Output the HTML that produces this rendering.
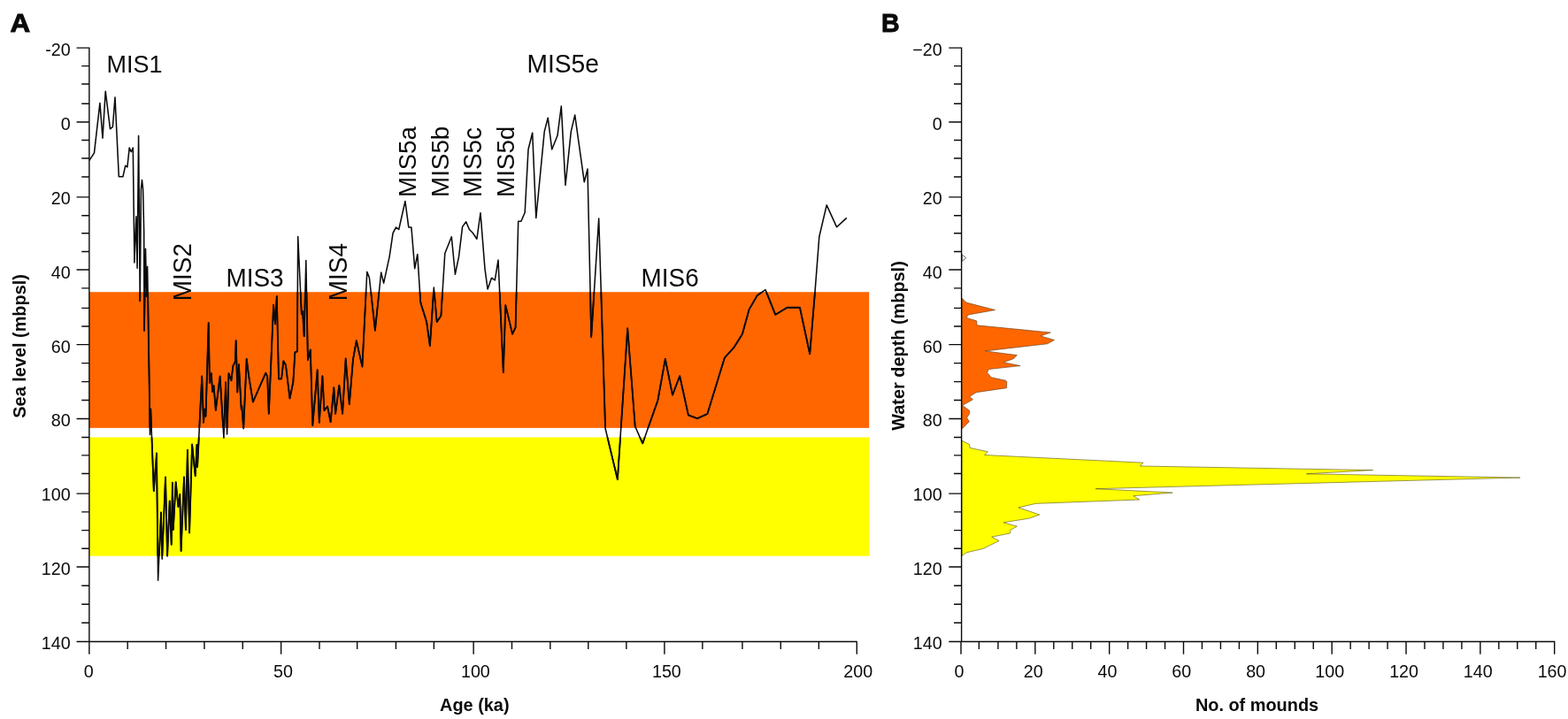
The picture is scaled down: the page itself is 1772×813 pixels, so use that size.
<!DOCTYPE html>
<html lang="en"><head><meta charset="utf-8"><title>Sea level and mound depth</title>
<style>html,body{margin:0;padding:0;background:#fff}body{width:1772px;height:813px;overflow:hidden}svg{display:block}
text{font-family:"Liberation Sans",sans-serif;fill:#0a0a0a}
.t{font-size:19.7px}.m{font-size:27.3px}.b{font-size:19.9px;font-weight:bold}.p{font-size:29.9px;font-weight:bold;stroke:#0a0a0a;stroke-width:0.95px;stroke-linejoin:miter}
.ax{stroke:#0a0a0a;stroke-width:1.40;fill:none;shape-rendering:auto}
</style></head><body>
<svg width="1772" height="813" viewBox="0 0 1772 813">
<rect width="1772" height="813" fill="#ffffff"/>
<rect x="100.8" y="330.2" width="881.4" height="153.7" fill="#ff6600"/>
<rect x="100.8" y="494.5" width="881.4" height="134.2" fill="#ffff00"/>
<polygon points="1087.0,337.1 1092.0,342.1 1124.6,350.5 1094.5,355.9 1092.0,359.3 1103.6,362.8 1104.1,367.8 1187.3,376.0 1176.0,379.9 1191.5,384.4 1183.6,388.8 1113.3,396.9 1149.3,401.6 1145.3,405.7 1134.0,409.7 1153.1,413.6 1117.1,417.6 1115.8,421.4 1120.2,426.7 1136.5,430.2 1137.8,431.4 1137.5,438.7 1103.2,443.7 1095.7,448.4 1099.5,451.8 1087.6,458.4 1095.7,464.3 1095.7,467.8 1092.6,472.2 1095.4,476.7 1087.0,485.1" fill="#ff6600" stroke="#5a3a1a" stroke-width="0.6" stroke-linejoin="miter"/>
<polygon points="1087.0,498.2 1095.7,502.6 1096.1,506.4 1116.4,510.8 1112.7,514.5 1291.9,523.2 1288.5,527.0 1551.5,531.6 1476.4,535.8 1718.0,540.1 1238.1,552.7 1325.2,557.1 1280.8,560.7 1287.7,565.0 1170.4,569.4 1150.9,573.9 1174.8,582.0 1162.8,586.2 1134.0,590.8 1149.3,595.2 1142.1,599.2 1141.5,603.0 1120.8,607.1 1129.0,611.5 1111.4,620.3 1092.6,624.7 1087.0,628.4" fill="#ffff00" stroke="#55501a" stroke-width="0.6" stroke-linejoin="miter"/>
<polygon points="1087.3,287.9 1091.7,291.7 1087.3,295.4" fill="#fff" stroke="#4a4a4a" stroke-width="0.85"/>
<defs><clipPath id="bands"><rect x="100.8" y="330.2" width="881.4" height="153.7"/><rect x="100.8" y="494.5" width="881.4" height="134.2"/></clipPath></defs>
<polyline points="100.8,181.6 106.5,172.8 112.9,116.6 116.0,156.1 119.2,103.2 124.5,145.8 127.4,143.3 130.0,110.1 134.3,199.8 138.9,199.8 141.7,187.3 143.9,188.9 146.2,167.1 148.3,171.8 150.3,167.1 151.9,297.0 153.9,244.7 155.1,303.2 156.6,153.5 158.2,340.3 159.4,214.0 160.5,203.6 161.6,214.0 162.7,262.0 163.0,373.8 164.5,281.3 165.6,335.0 166.6,301.4 168.8,440.0 169.5,491.5 170.3,462.5 173.8,555.2 177.0,512.5 178.6,656.3 182.0,579.5 183.2,632.1 187.0,539.5 189.1,629.0 191.7,566.5 193.7,615.8 194.9,545.8 195.8,598.9 198.7,545.2 201.4,573.0 203.3,559.0 204.6,623.0 208.0,539.5 209.9,599.0 211.9,508.8 214.1,602.4 217.1,502.5 220.7,538.1 222.5,502.8 223.1,528.0 228.2,425.5 230.0,477.7 231.3,462.7 232.5,470.8 235.7,365.1 236.9,432.8 238.8,422.1 240.1,443.0 241.6,436.2 243.8,463.9 248.6,425.5 252.9,494.7 255.1,432.3 256.6,490.9 258.5,422.3 261.4,430.3 263.3,414.0 265.8,409.0 266.7,385.1 268.3,443.4 269.9,412.1 272.7,462.7 273.3,459.0 275.2,484.6 278.7,405.8 281.1,424.8 285.9,454.5 300.3,421.7 302.2,426.0 303.8,467.7 309.1,344.7 311.0,366.3 312.8,335.0 315.0,428.4 318.1,428.4 320.4,408.3 322.9,412.7 327.5,450.5 331.3,432.2 333.4,398.3 335.9,397.4 336.7,267.5 340.8,355.3 342.0,352.0 343.7,380.2 345.8,294.5 347.9,407.1 350.8,395.5 353.3,481.0 358.7,418.2 360.8,477.8 364.4,425.2 366.4,464.2 370.1,459.6 373.6,477.2 377.3,438.3 379.1,467.8 383.3,435.8 387.1,467.8 390.7,405.5 394.8,457.1 399.0,406.3 402.8,385.2 409.4,414.6 414.8,307.4 417.4,314.0 423.9,373.7 430.7,308.0 433.6,320.1 440.1,290.3 444.1,263.3 447.6,257.0 450.7,259.5 457.9,227.5 461.8,257.0 464.9,257.0 468.7,303.6 471.8,287.5 475.2,341.4 476.5,346.0 482.1,364.0 485.9,391.0 490.3,325.1 493.7,364.0 498.4,357.1 502.8,286.5 510.3,267.7 514.4,310.2 518.5,290.3 522.6,256.4 526.7,250.8 530.4,259.5 534.2,263.3 538.9,270.2 543.0,240.7 548.0,304.1 551.1,327.0 555.5,314.2 559.3,316.9 563.0,294.0 568.8,421.0 571.3,345.1 579.1,377.7 582.6,370.2 585.7,250.2 588.9,250.2 593.2,240.2 597.0,169.0 601.7,150.2 605.8,246.5 615.2,148.9 619.2,133.2 623.7,169.0 630.0,153.3 634.3,120.1 639.0,209.4 645.3,148.9 649.7,130.1 660.3,205.8 664.0,191.1 668.2,381.0 676.7,247.1 684.1,484.5 697.9,542.2 709.2,371.3 717.7,482.0 726.2,501.4 743.4,452.8 751.8,405.8 760.0,446.6 768.2,425.2 777.9,469.4 788.1,473.2 799.4,468.0 818.9,404.5 829.5,392.8 838.9,377.8 846.7,349.6 855.9,333.9 865.0,327.6 876.3,355.8 889.7,347.7 903.9,347.7 915.2,400.3 921.1,328.9 925.8,267.7 934.2,231.9 945.6,256.8 956.8,246.4" fill="none" stroke="#0b0a0a" stroke-width="1.55" stroke-linejoin="round"/>
<polyline points="100.8,181.6 106.5,172.8 112.9,116.6 116.0,156.1 119.2,103.2 124.5,145.8 127.4,143.3 130.0,110.1 134.3,199.8 138.9,199.8 141.7,187.3 143.9,188.9 146.2,167.1 148.3,171.8 150.3,167.1 151.9,297.0 153.9,244.7 155.1,303.2 156.6,153.5 158.2,340.3 159.4,214.0 160.5,203.6 161.6,214.0 162.7,262.0 163.0,373.8 164.5,281.3 165.6,335.0 166.6,301.4 168.8,440.0 169.5,491.5 170.3,462.5 173.8,555.2 177.0,512.5 178.6,656.3 182.0,579.5 183.2,632.1 187.0,539.5 189.1,629.0 191.7,566.5 193.7,615.8 194.9,545.8 195.8,598.9 198.7,545.2 201.4,573.0 203.3,559.0 204.6,623.0 208.0,539.5 209.9,599.0 211.9,508.8 214.1,602.4 217.1,502.5 220.7,538.1 222.5,502.8 223.1,528.0 228.2,425.5 230.0,477.7 231.3,462.7 232.5,470.8 235.7,365.1 236.9,432.8 238.8,422.1 240.1,443.0 241.6,436.2 243.8,463.9 248.6,425.5 252.9,494.7 255.1,432.3 256.6,490.9 258.5,422.3 261.4,430.3 263.3,414.0 265.8,409.0 266.7,385.1 268.3,443.4 269.9,412.1 272.7,462.7 273.3,459.0 275.2,484.6 278.7,405.8 281.1,424.8 285.9,454.5 300.3,421.7 302.2,426.0 303.8,467.7 309.1,344.7 311.0,366.3 312.8,335.0 315.0,428.4 318.1,428.4 320.4,408.3 322.9,412.7 327.5,450.5 331.3,432.2 333.4,398.3 335.9,397.4 336.7,267.5 340.8,355.3 342.0,352.0 343.7,380.2 345.8,294.5 347.9,407.1 350.8,395.5 353.3,481.0 358.7,418.2 360.8,477.8 364.4,425.2 366.4,464.2 370.1,459.6 373.6,477.2 377.3,438.3 379.1,467.8 383.3,435.8 387.1,467.8 390.7,405.5 394.8,457.1 399.0,406.3 402.8,385.2 409.4,414.6 414.8,307.4 417.4,314.0 423.9,373.7 430.7,308.0 433.6,320.1 440.1,290.3 444.1,263.3 447.6,257.0 450.7,259.5 457.9,227.5 461.8,257.0 464.9,257.0 468.7,303.6 471.8,287.5 475.2,341.4 476.5,346.0 482.1,364.0 485.9,391.0 490.3,325.1 493.7,364.0 498.4,357.1 502.8,286.5 510.3,267.7 514.4,310.2 518.5,290.3 522.6,256.4 526.7,250.8 530.4,259.5 534.2,263.3 538.9,270.2 543.0,240.7 548.0,304.1 551.1,327.0 555.5,314.2 559.3,316.9 563.0,294.0 568.8,421.0 571.3,345.1 579.1,377.7 582.6,370.2 585.7,250.2 588.9,250.2 593.2,240.2 597.0,169.0 601.7,150.2 605.8,246.5 615.2,148.9 619.2,133.2 623.7,169.0 630.0,153.3 634.3,120.1 639.0,209.4 645.3,148.9 649.7,130.1 660.3,205.8 664.0,191.1 668.2,381.0 676.7,247.1 684.1,484.5 697.9,542.2 709.2,371.3 717.7,482.0 726.2,501.4 743.4,452.8 751.8,405.8 760.0,446.6 768.2,425.2 777.9,469.4 788.1,473.2 799.4,468.0 818.9,404.5 829.5,392.8 838.9,377.8 846.7,349.6 855.9,333.9 865.0,327.6 876.3,355.8 889.7,347.7 903.9,347.7 915.2,400.3 921.1,328.9 925.8,267.7 934.2,231.9 945.6,256.8 956.8,246.4" fill="none" stroke="#0b0a10" stroke-width="1.85" stroke-linejoin="round" clip-path="url(#bands)"/>
<path class="ax" d="M100.85 53.42V725.50M86.55 725.50H968.70M86.55 54.12H100.85M92.25 74.59H100.85M92.25 95.06H100.85M92.25 117.23H100.85M86.55 138.00H100.85M92.25 158.57H100.85M92.25 178.94H100.85M92.25 200.01H100.85M86.55 222.88H100.85M92.25 243.75H100.85M92.25 263.82H100.85M92.25 284.49H100.85M86.55 305.06H100.85M92.25 325.83H100.85M92.25 348.40H100.85M92.25 369.07H100.85M86.55 389.64H100.85M92.25 410.61H100.85M92.25 431.58H100.85M92.25 452.55H100.85M86.55 473.52H100.85M92.25 494.49H100.85M92.25 514.86H100.85M92.25 535.53H100.85M86.55 558.10H100.85M92.25 578.87H100.85M92.25 599.64H100.85M92.25 620.31H100.85M86.55 640.98H100.85M92.25 662.25H100.85M92.25 683.22H100.85M92.25 704.19H100.85M100.85 725.50V739.80M144.21 725.50V734.10M187.56 725.50V734.10M230.92 725.50V734.10M274.28 725.50V734.10M317.64 725.50V739.80M361.00 725.50V734.10M403.65 725.50V734.10M447.41 725.50V734.10M490.37 725.50V734.10M535.12 725.50V739.80M578.48 725.50V734.10M621.84 725.50V734.10M664.80 725.50V734.10M707.86 725.50V734.10M750.91 725.50V739.80M793.87 725.50V734.10M838.93 725.50V734.10M882.28 725.50V734.10M925.34 725.50V734.10M968.30 725.50V739.80"/>
<path class="ax" d="M1086.60 53.42V725.50M1072.30 725.50H1757.40M1072.30 54.12H1086.60M1078.00 74.59H1086.60M1078.00 95.06H1086.60M1078.00 117.23H1086.60M1072.30 138.00H1086.60M1078.00 158.57H1086.60M1078.00 178.94H1086.60M1078.00 200.01H1086.60M1072.30 222.88H1086.60M1078.00 243.75H1086.60M1078.00 263.82H1086.60M1078.00 284.49H1086.60M1072.30 305.06H1086.60M1078.00 325.83H1086.60M1078.00 348.40H1086.60M1078.00 369.07H1086.60M1072.30 389.64H1086.60M1078.00 410.61H1086.60M1078.00 431.58H1086.60M1078.00 452.55H1086.60M1072.30 473.52H1086.60M1078.00 494.49H1086.60M1078.00 514.86H1086.60M1078.00 535.53H1086.60M1072.30 558.10H1086.60M1078.00 578.87H1086.60M1078.00 599.64H1086.60M1078.00 620.31H1086.60M1072.30 640.98H1086.60M1078.00 662.25H1086.60M1078.00 683.22H1086.60M1078.00 704.19H1086.60M1086.00 725.50V739.80M1106.36 725.50V734.10M1127.92 725.50V734.10M1148.88 725.50V734.10M1169.84 725.50V739.80M1190.80 725.50V734.10M1211.76 725.50V734.10M1232.72 725.50V734.10M1253.67 725.50V739.80M1274.63 725.50V734.10M1295.59 725.50V734.10M1316.55 725.50V734.10M1337.51 725.50V739.80M1358.47 725.50V734.10M1379.43 725.50V734.10M1400.39 725.50V734.10M1421.35 725.50V739.80M1442.31 725.50V734.10M1463.27 725.50V734.10M1484.23 725.50V734.10M1505.19 725.50V739.80M1526.15 725.50V734.10M1547.11 725.50V734.10M1568.07 725.50V734.10M1589.03 725.50V739.80M1609.98 725.50V734.10M1630.94 725.50V734.10M1651.90 725.50V734.10M1672.86 725.50V739.80M1693.82 725.50V734.10M1714.78 725.50V734.10M1735.74 725.50V734.10M1756.70 725.50V739.80"/>
<text class="t" x="79.6" y="63.0" text-anchor="end">-20</text>
<text class="t" x="1064.6" y="63.0" text-anchor="end">−20</text>
<text class="t" x="79.6" y="146.9" text-anchor="end">0</text>
<text class="t" x="1064.6" y="146.9" text-anchor="end">0</text>
<text class="t" x="79.6" y="230.8" text-anchor="end">20</text>
<text class="t" x="1064.6" y="230.8" text-anchor="end">20</text>
<text class="t" x="79.6" y="314.7" text-anchor="end">40</text>
<text class="t" x="1064.6" y="314.7" text-anchor="end">40</text>
<text class="t" x="79.6" y="398.5" text-anchor="end">60</text>
<text class="t" x="1064.6" y="398.5" text-anchor="end">60</text>
<text class="t" x="79.6" y="482.4" text-anchor="end">80</text>
<text class="t" x="1064.6" y="482.4" text-anchor="end">80</text>
<text class="t" x="79.6" y="566.3" text-anchor="end">100</text>
<text class="t" x="1064.6" y="566.3" text-anchor="end">100</text>
<text class="t" x="79.6" y="650.2" text-anchor="end">120</text>
<text class="t" x="1064.6" y="650.2" text-anchor="end">120</text>
<text class="t" x="79.6" y="734.1" text-anchor="end">140</text>
<text class="t" x="1064.6" y="734.1" text-anchor="end">140</text>
<text class="t" x="100.2" y="766.2" text-anchor="middle">0</text>
<text class="t" x="320.0" y="766.2" text-anchor="middle">50</text>
<text class="t" x="537.4" y="766.2" text-anchor="middle">100</text>
<text class="t" x="753.4" y="766.2" text-anchor="middle">150</text>
<text class="t" x="969.7" y="766.2" text-anchor="middle">200</text>
<text class="t" x="1084.0" y="766.2" text-anchor="middle">0</text>
<text class="t" x="1167.8" y="766.2" text-anchor="middle">20</text>
<text class="t" x="1251.5" y="766.2" text-anchor="middle">40</text>
<text class="t" x="1335.3" y="766.2" text-anchor="middle">60</text>
<text class="t" x="1419.1" y="766.2" text-anchor="middle">80</text>
<text class="t" x="1502.8" y="766.2" text-anchor="middle">100</text>
<text class="t" x="1586.6" y="766.2" text-anchor="middle">120</text>
<text class="t" x="1670.3" y="766.2" text-anchor="middle">140</text>
<text class="t" x="1754.1" y="766.2" text-anchor="middle">160</text>
<text class="b" x="536.3" y="804.4" text-anchor="middle">Age (ka)</text>
<text class="b" x="1420.5" y="804.4" text-anchor="middle">No. of mounds</text>
<text class="b" transform="translate(28.6 391.4) rotate(-90)" text-anchor="middle">Sea level (mbpsl)</text>
<text class="b" transform="translate(1021.6 391) rotate(-90)" text-anchor="middle">Water depth (mbpsl)</text>
<text class="p" transform="translate(11.6 36.3) scale(1.05 1)">A</text>
<text class="p" transform="translate(995.9 36.3) scale(0.955 1)">B</text>
<text style="font-size:27.0px" transform="translate(120.5 81.7) scale(1 1.025)">MIS1</text>
<text style="font-size:27.9px" transform="translate(255.4 323.9) scale(1 1.025)">MIS3</text>
<text style="font-size:28.2px" transform="translate(595.4 81.6) scale(1 1.025)">MIS5e</text>
<text style="font-size:27.9px" transform="translate(724.6 323.5) scale(1 1.025)">MIS6</text>
<text style="font-size:27.9px" transform="translate(215.7 340.2) rotate(-90) scale(1 1.025)">MIS2</text>
<text style="font-size:27.9px" transform="translate(391.7 340.2) rotate(-90) scale(1 1.025)">MIS4</text>
<text style="font-size:27.6px" transform="translate(469.6 223.0) rotate(-90) scale(1 1.025)">MIS5a</text>
<text style="font-size:27.8px" transform="translate(507.0 223.0) rotate(-90) scale(1 1.025)">MIS5b</text>
<text style="font-size:27.9px" transform="translate(544.0 223.0) rotate(-90) scale(1 1.025)">MIS5c</text>
<text style="font-size:27.8px" transform="translate(581.3 223.0) rotate(-90) scale(1 1.025)">MIS5d</text>
</svg></body></html>
